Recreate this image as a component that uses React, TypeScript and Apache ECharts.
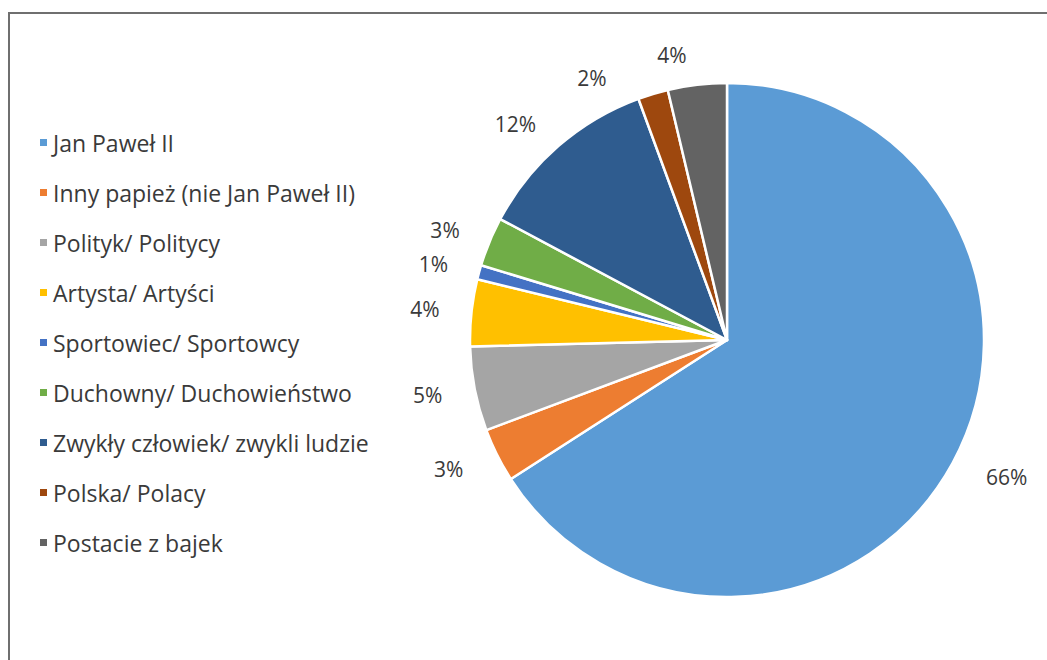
import React, { useEffect, useRef } from "react";
import * as echarts from "echarts";

const categories = [
  "Jan Paweł II",
  "Inny papież (nie Jan Paweł II)",
  "Polityk/ Politycy",
  "Artysta/ Artyści",
  "Sportowiec/ Sportowcy",
  "Duchowny/ Duchowieństwo",
  "Zwykły człowiek/ zwykli ludzie",
  "Polska/ Polacy",
  "Postacie z bajek",
];
const values = [65.9, 3.4, 5.3, 4.2, 0.9, 3.1, 11.6, 1.9, 3.7];
const colors = [
  "#5B9BD5",
  "#ED7D31",
  "#A5A5A5",
  "#FFC000",
  "#4472C4",
  "#70AD47",
  "#2F5C8F",
  "#9E480E",
  "#636363",
];

export default function App() {
  const ref = useRef<HTMLDivElement>(null);
  useEffect(() => {
    document.body.style.margin = "0";
    const chart = echarts.init(ref.current!, null, { renderer: "svg" });
    chart.setOption({
      animation: false,
      backgroundColor: "#ffffff",
      color: colors,
      graphic: [
        {
          type: "rect",
          shape: { x: 9, y: 13, width: 1100, height: 700 },
          style: { fill: "none", stroke: "#6f6f6f", lineWidth: 2 },
          silent: true,
        },
      ],
      legend: {
        orient: "vertical",
        left: 33,
        top: 124,
        icon: "rect",
        itemWidth: 9,
        itemHeight: 9,
        itemGap: 23,
        textStyle: {
          fontFamily: "Open Sans",
          fontSize: 23,
          lineHeight: 27,
          color: "#3a3a3a",
        },
        data: categories,
      },
      series: [
        {
          type: "pie",
          center: [727, 340],
          radius: 257,
          startAngle: 90,
          clockwise: true,
          avoidLabelOverlap: true,
          itemStyle: { borderColor: "#ffffff", borderWidth: 2.5 },
          label: {
            show: true,
            position: "outside",
            fontFamily: "Open Sans",
            fontSize: 21,
            color: "#3a3a3a",
            formatter: (p: any) => Math.round(p.percent) + "%",
          },
          labelLine: { show: false, length: 30, length2: 2 },
          data: categories.map((c, i) => ({ name: c, value: values[i] })),
        },
      ],
    });
    return () => chart.dispose();
  }, []);
  return <div ref={ref} style={{ width: 1047, height: 660 }} />;
}
